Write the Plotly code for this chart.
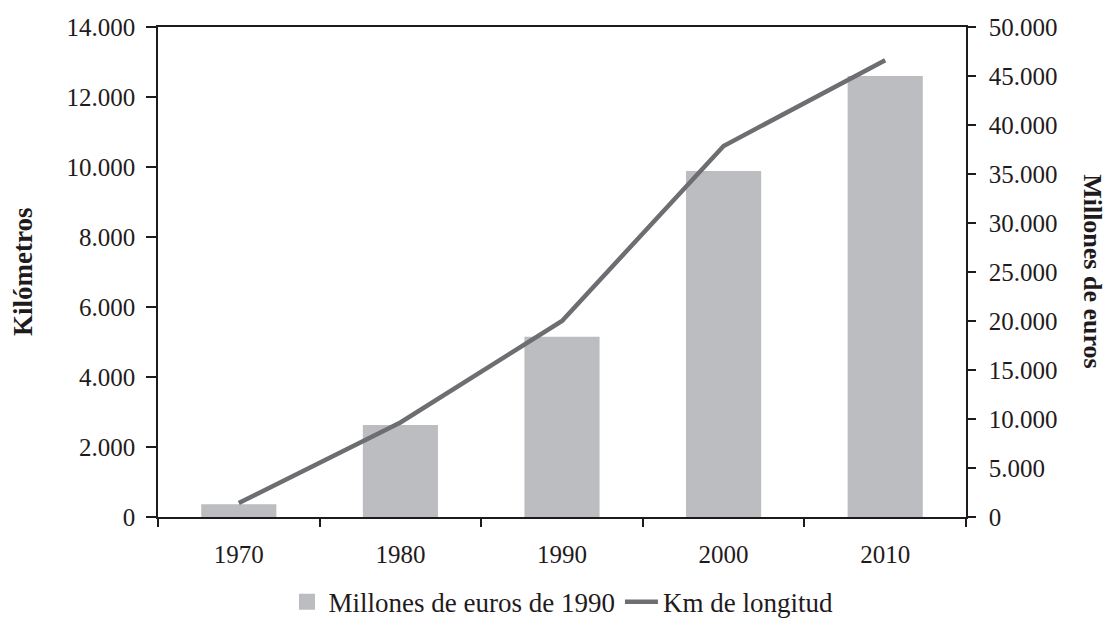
import plotly.graph_objects as go

# Data
years = ["1970", "1980", "1990", "2000", "2010"]
millones_euros = [1300, 9400, 18400, 35300, 45000]   # Millones de euros de 1990
km_longitud = [400, 2700, 5600, 10600, 13050]        # Km de longitud

km_ticks = [0, 2000, 4000, 6000, 8000, 10000, 12000, 14000]
eur_ticks = list(range(0, 50001, 5000))

TXT = "#1f1b1c"
BAR = "#bcbdc1"
LINE = "#6d6e71"
FONT = "Liberation Serif"

fig = go.Figure()

fig.add_trace(go.Bar(
    x=years, y=millones_euros, name="Millones de euros de 1990",
    marker=dict(color=BAR, line=dict(width=0)),
    yaxis="y", showlegend=False, legendgroup="eur",
))
# Legend entry for the bars with a larger square swatch
fig.add_trace(go.Scatter(
    x=[None], y=[None], name="Millones de euros de 1990", mode="markers",
    marker=dict(symbol="square", size=17, color=BAR),
    yaxis="y", legendgroup="eur",
))
fig.add_trace(go.Scatter(
    x=years, y=km_longitud, name="Km de longitud", mode="lines",
    line=dict(color=LINE, width=4.5),
    yaxis="y2",
))

fig.update_layout(
    width=1111, height=621,
    margin=dict(l=158, r=145, t=27, b=104, autoexpand=False),
    paper_bgcolor="white", plot_bgcolor="white",
    separators=",.",
    font=dict(family=FONT, size=25, color=TXT),
    bargap=0.535,
    showlegend=True,
    legend=dict(
        orientation="h", x=0.5, xanchor="center", y=-0.174, yanchor="middle",
        font=dict(family=FONT, size=27, color=TXT),
        traceorder="normal", itemwidth=33,
    ),
    xaxis=dict(
        type="category", tickson="boundaries",
        showline=True, linecolor=TXT, linewidth=1.5, mirror=True,
        ticks="outside", ticklen=8, tickwidth=1.5, tickcolor=TXT,
        showgrid=False, zeroline=False,
        ticklabelstandoff=14,
        tickfont=dict(family=FONT, size=25, color=TXT),
    ),
    # Right axis: millions of euros (bars)
    yaxis=dict(
        side="right", range=[0, 50000], tickvals=eur_ticks, tickformat=",d",
        showline=True, linecolor=TXT, linewidth=1.5,
        ticks="outside", ticklen=8, tickwidth=1.5, tickcolor=TXT,
        showgrid=False, zeroline=False,
        ticklabelstandoff=8,
        tickfont=dict(family=FONT, size=25, color=TXT),
    ),
    # Left axis: kilometres (line), overlaid so the line sits above the bars
    yaxis2=dict(
        overlaying="y", side="left", range=[0, 14000], tickvals=km_ticks,
        tickformat=",d",
        showline=True, linecolor=TXT, linewidth=1.5,
        ticks="outside", ticklen=10, tickwidth=1.5, tickcolor=TXT,
        showgrid=False, zeroline=False,
        ticklabelstandoff=6,
        tickfont=dict(family=FONT, size=25, color=TXT),
    ),
    annotations=[
        dict(text="<b>Kilómetros</b>", textangle=-90, xref="paper", yref="paper",
             x=-0.167, y=0.5, xanchor="center", yanchor="middle", showarrow=False,
             font=dict(family=FONT, size=27, color=TXT)),
        dict(text="<b>Millones de euros</b>", textangle=90, xref="paper", yref="paper",
             x=1.157, y=0.5, xanchor="center", yanchor="middle", showarrow=False,
             font=dict(family=FONT, size=26, color=TXT)),
    ],
)

fig.write_html("out.html")
